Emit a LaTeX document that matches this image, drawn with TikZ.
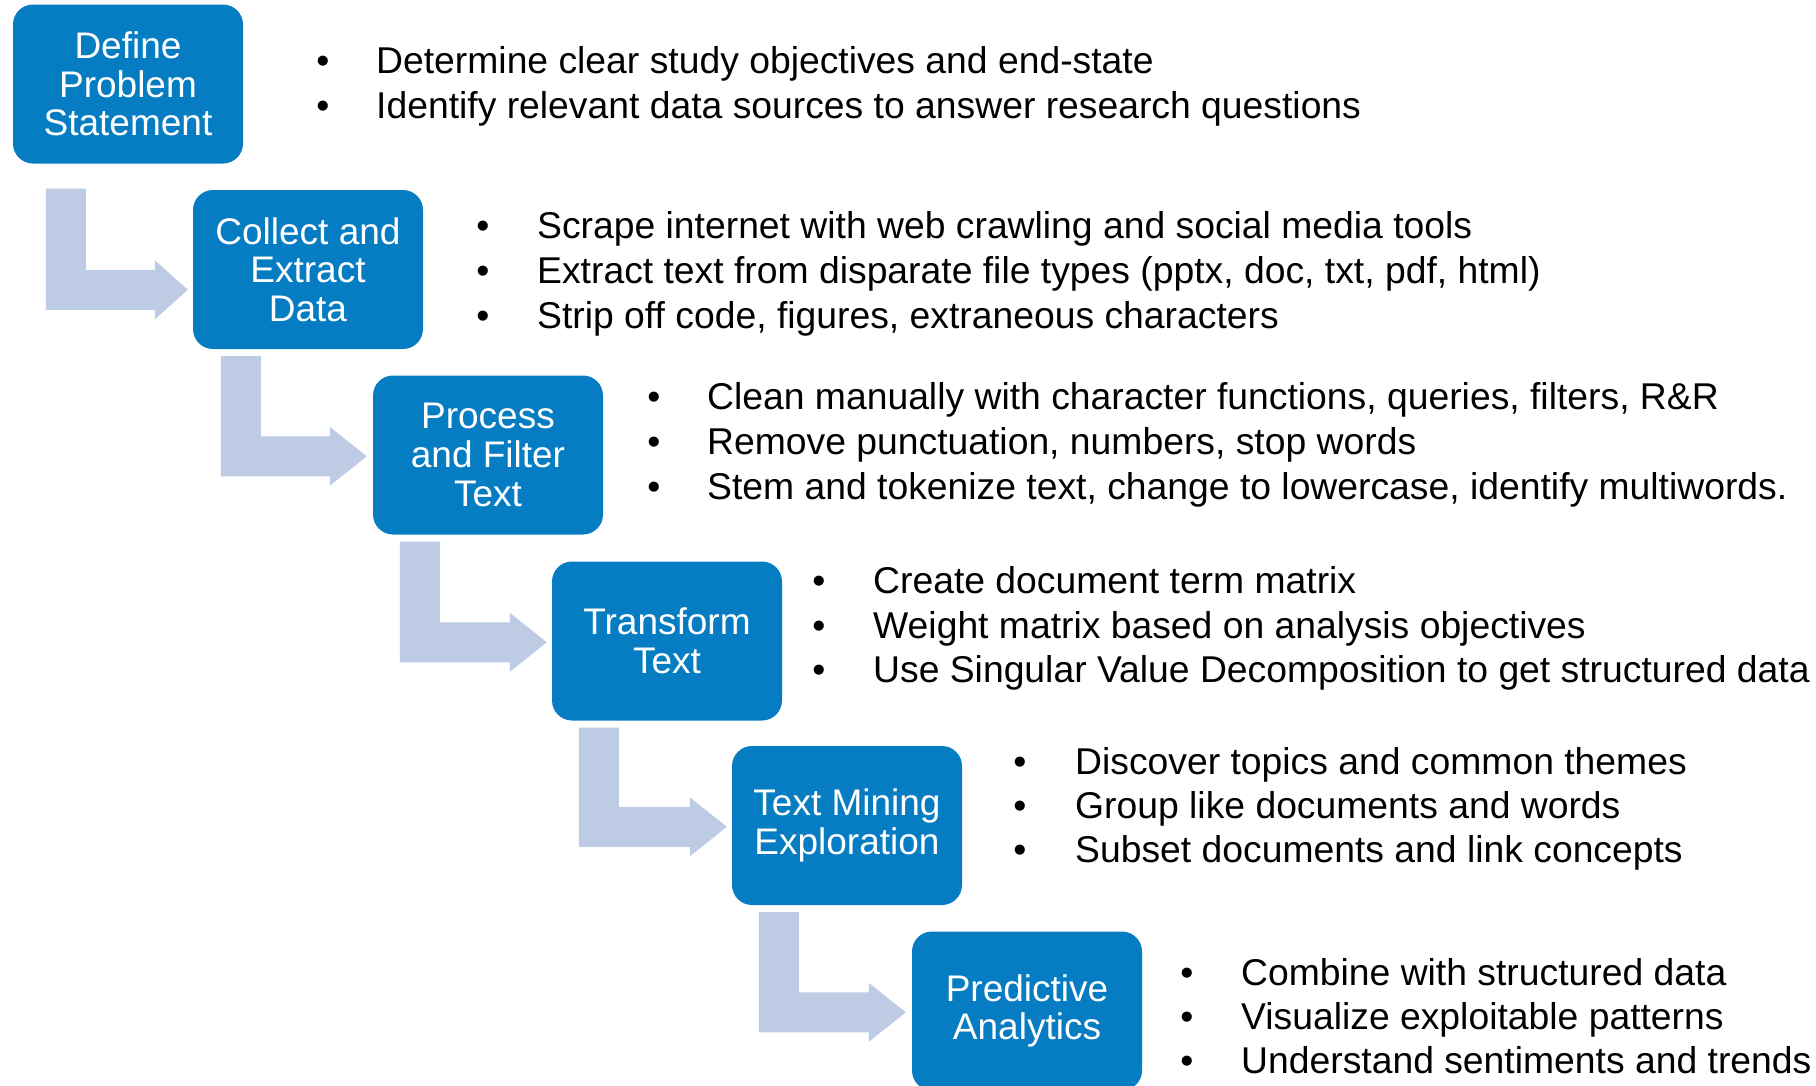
\documentclass[tikz,border=0pt]{standalone}
\usepackage{fontspec}
\setmainfont{Liberation Sans}
\usetikzlibrary{calc}

\definecolor{stepblue}{HTML}{067DC2}
\definecolor{flowblue}{HTML}{BDCCE4}

% Bent block arrow: #1 = top-left corner of the vertical bar,
% #2 = tip of the head, #3 = head length
\newcommand{\bentarrow}[3]{%
  \fill[flowblue] let \p1=(#1), \p2=(#2) in
    (\x1,\y1) -- (\x1+40pt,\y1) -- (\x1+40pt,\y2+20pt)
    -- (\x2-#3pt,\y2+20pt) -- (\x2-#3pt,\y2+29.5pt) -- (\x2,\y2)
    -- (\x2-#3pt,\y2-29.5pt) -- (\x2-#3pt,\y2-20pt)
    -- (\x1,\y2-20pt) -- cycle;}

\tikzset{
  stepbox/.style={fill=stepblue, rounded corners=20pt, minimum width=230pt,
    minimum height=159pt, inner sep=0pt, align=center, text=white,
    font=\fontsize{37}{38.6}\selectfont},
  bul/.style={anchor=base, inner sep=0pt, font=\fontsize{37.3}{45}\selectfont},
  txt/.style={anchor=base west, inner sep=0pt, font=\fontsize{37.3}{45}\selectfont}
}

\begin{document}
\begin{tikzpicture}[x=1pt,y=-1pt]
\clip (0,0) rectangle (1816,1085);
\fill[white] (0,0) rectangle (1816,1085);

% process steps
\node[stepbox] (b1) at (128,84)     {Define\\Problem\\Statement};
\node[stepbox] (b2) at (308,269.5)  {Collect and\\Extract\\Data};
\node[stepbox] (b3) at (488,455)    {Process\\and Filter\\Text};
\node[stepbox] (b4) at (667,641)    {Transform\\Text};
\node[stepbox] (b5) at (847,825.5)  {Text Mining\\Exploration};
\node[stepbox] (b6) at (1027,1011)  {Predictive\\Analytics};

% arrow anchor points between consecutive steps
\coordinate (a1s) at ($(b1.south west)+(33,25)$);
\coordinate (a1e) at ($(b2.north west)+(-5,100)$);
\coordinate (a2s) at ($(b2.south west)+(28,7)$);
\coordinate (a2e) at ($(b3.north west)+(-6,81)$);
\coordinate (a3s) at ($(b3.south west)+(27,7)$);
\coordinate (a3e) at ($(b4.north west)+(-5,81)$);
\coordinate (a4s) at ($(b4.south west)+(27,7)$);
\coordinate (a4e) at ($(b5.north west)+(-5,81)$);
\coordinate (a5s) at ($(b5.south west)+(27,7)$);
\coordinate (a5e) at ($(b6.north west)+(-6,81)$);

\bentarrow{a1s}{a1e}{33}
\bentarrow{a2s}{a2e}{37}
\bentarrow{a3s}{a3e}{37}
\bentarrow{a4s}{a4e}{37}
\bentarrow{a5s}{a5e}{37}

% step 1 notes
\node[bul] (p1a) at (323,73) {•};
\node[txt] (t1a) at (376,73) {Determine clear study objectives and end-state};
\node[bul] (p1b) at (323,118) {•};
\node[txt] (t1b) at (376,118) {Identify relevant data sources to answer research questions};

% step 2 notes
\node[bul] (p2a) at (483,238) {•};
\node[txt] (t2a) at (537,238) {Scrape internet with web crawling and social media tools};
\node[bul] (p2b) at (483,283) {•};
\node[txt] (t2b) at (537,283) {Extract text from disparate file types (pptx, doc, txt, pdf, html)};
\node[bul] (p2c) at (483,328) {•};
\node[txt] (t2c) at (537,328) {Strip off code, figures, extraneous characters};

% step 3 notes
\node[bul] (p3a) at (654,409) {•};
\node[txt] (t3a) at (707,409) {Clean manually with character functions, queries, filters, R\&R};
\node[bul] (p3b) at (654,454) {•};
\node[txt] (t3b) at (707,454) {Remove punctuation, numbers, stop words};
\node[bul] (p3c) at (654,499) {•};
\node[txt] (t3c) at (707,499) {Stem and tokenize text, change to lowercase, identify multiwords.};

% step 4 notes
\node[bul] (p4a) at (819,593) {•};
\node[txt] (t4a) at (873,593) {Create document term matrix};
\node[bul] (p4b) at (819,638) {•};
\node[txt] (t4b) at (873,638) {Weight matrix based on analysis objectives};
\node[bul] (p4c) at (819,682) {•};
\node[txt] (t4c) at (873,682) {Use Singular Value Decomposition to get structured data};

% step 5 notes
\node[bul] (p5a) at (1020,774) {•};
\node[txt] (t5a) at (1075,774) {Discover topics and common themes};
\node[bul] (p5b) at (1020,818) {•};
\node[txt] (t5b) at (1075,818) {Group like documents and words};
\node[bul] (p5c) at (1020,862) {•};
\node[txt] (t5c) at (1075,862) {Subset documents and link concepts};

% step 6 notes
\node[bul] (p6a) at (1187,985) {•};
\node[txt] (t6a) at (1241,985) {Combine with structured data};
\node[bul] (p6b) at (1187,1029) {•};
\node[txt] (t6b) at (1241,1029) {Visualize exploitable patterns};
\node[bul] (p6c) at (1187,1073) {•};
\node[txt] (t6c) at (1241,1073) {Understand sentiments and trends};
\end{tikzpicture}
\end{document}
